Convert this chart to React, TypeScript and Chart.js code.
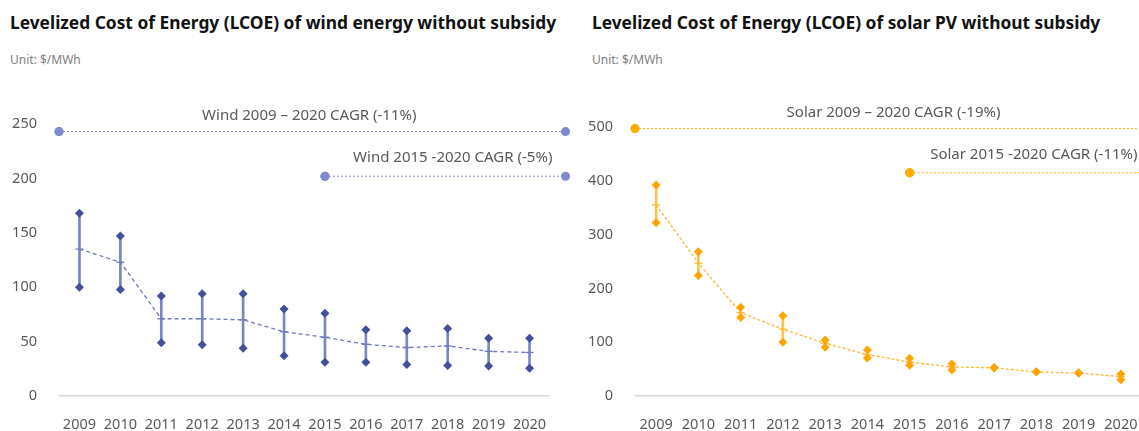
import React, { useEffect, useRef } from "react";
import { Chart, registerables } from "chart.js";
Chart.register(...registerables);

const years = ["2009", "2010", "2011", "2012", "2013", "2014", "2015", "2016", "2017", "2018", "2019", "2020"];

const windHigh = [168, 147, 92, 94, 94, 80, 76, 61, 60, 62, 53, 53];
const windLow = [100, 98, 49, 47, 44, 37, 31, 31, 29, 28, 27.5, 25.5];
const windMid = [135, 123, 71, 71, 70, 59, 54, 47.5, 44.5, 46, 41, 40];
const windCagrFull = 243;
const windCagrRecent = 202;
const windCagrLabels = ["Wind 2009 \u2013 2020 CAGR (-11%)", "Wind 2015 -2020 CAGR (-5%)"];
const windYTicks = [0, 50, 100, 150, 200, 250];

const solarHigh = [392, 268, 165, 149, 104, 85.5, 70, 59.5, 53, 45, 43, 41];
const solarLow = [322, 224, 146, 100, 90.5, 70.5, 57, 48.5, 52, 44.5, 42.5, 30];
const solarMid = [355, 247, 155, 124, 98, 77, 63, 54, 52.5, 44.7, 42.7, 36];
const solarCagrFull = 497;
const solarCagrRecent = 415;
const solarCagrLabels = ["Solar 2009 \u2013 2020 CAGR (-19%)", "Solar 2015 -2020 CAGR (-11%)"];
const solarYTicks = [0, 100, 200, 300, 400, 500];

// span of the CAGR reference lines, in year-index units
const fullSpan = [-0.5, 11.88];
const recentSpan = [6, 11.88];

const FONT = "'Noto Sans', 'Open Sans', sans-serif";

type P = {
  high: number[];
  low: number[];
  mid: number[];
  cagrFull: number;
  cagrRecent: number;
  labels: string[];
  yTicks: number[];
  marker: string;
  bar: string;
  midColor: string;
  midDash: number[];
  ann: string;
  yWidth: number;
  padTop: number;
  padRight: number;
  labelDx: number[];
};

function buildConfig(p: P): any {
  const idx = years.map((_, i) => i);
  const labelPlugin = {
    id: "cagrLabels",
    afterDatasetsDraw(chart: any) {
      const { ctx } = chart;
      const xs = chart.scales.x;
      const ys = chart.scales.y;
      ctx.save();
      // end dots of the CAGR lines may sit outside the plot area: draw them unclipped
      [4, 5].forEach((di) => {
        chart.getDatasetMeta(di).data.forEach((el: any) => el.draw(ctx));
      });
      ctx.fillStyle = "#595959";
      ctx.font = `15px ${FONT}`;
      ctx.textAlign = "center";
      ctx.textBaseline = "middle";
      const x1 = (xs.getPixelForValue(fullSpan[0]) + xs.getPixelForValue(fullSpan[1])) / 2 + p.labelDx[0];
      ctx.fillText(p.labels[0], x1, ys.getPixelForValue(p.cagrFull) - 16);
      const x2 = (xs.getPixelForValue(recentSpan[0]) + xs.getPixelForValue(recentSpan[1])) / 2 + p.labelDx[1];
      ctx.fillText(p.labels[1], x2, ys.getPixelForValue(p.cagrRecent) - 18);
      ctx.restore();
    },
  };
  return {
    type: "line",
    data: {
      datasets: [
        {
          type: "bar",
          data: idx.map((i) => ({ x: i, y: [p.low[i], p.high[i]] })),
          backgroundColor: p.bar,
          borderWidth: 0,
          barThickness: 2,
          order: 10,
        },
        {
          data: idx.map((i) => ({ x: i, y: p.mid[i] })),
          borderColor: p.midColor,
          borderDash: p.midDash,
          borderWidth: 1.3,
          pointStyle: "line",
          pointRadius: 4,
          pointBorderColor: p.midColor,
          pointBorderWidth: 1.3,
          fill: false,
          order: 5,
        },
        {
          data: idx.map((i) => ({ x: i, y: p.high[i] })),
          showLine: false,
          pointStyle: "rectRot",
          pointRadius: 4.5,
          pointBackgroundColor: p.marker,
          pointBorderColor: p.marker,
          pointBorderWidth: 0,
          order: 1,
        },
        {
          data: idx.map((i) => ({ x: i, y: p.low[i] })),
          showLine: false,
          pointStyle: "rectRot",
          pointRadius: 4.5,
          pointBackgroundColor: p.marker,
          pointBorderColor: p.marker,
          pointBorderWidth: 0,
          order: 1,
        },
        {
          data: fullSpan.map((x) => ({ x, y: p.cagrFull })),
          borderColor: p.ann,
          borderDash: [2, 2],
          borderWidth: 1,
          pointRadius: 4.5,
          pointBackgroundColor: p.ann,
          pointBorderColor: p.ann,
          pointBorderWidth: 0,
          clip: false,
          order: 2,
        },
        {
          data: recentSpan.map((x) => ({ x, y: p.cagrRecent })),
          borderColor: p.ann,
          borderDash: [2, 2],
          borderWidth: 1,
          pointRadius: 4.5,
          pointBackgroundColor: p.ann,
          pointBorderColor: p.ann,
          pointBorderWidth: 0,
          clip: false,
          order: 2,
        },
      ],
    },
    options: {
      animation: false,
      responsive: false,
      devicePixelRatio: 1,
      layout: { padding: { top: p.padTop, right: p.padRight, left: 0, bottom: 0 } },
      plugins: { legend: { display: false }, tooltip: { enabled: false }, title: { display: false } },
      scales: {
        x: {
          type: "linear",
          bounds: "data",
          offset: false,
          min: -0.5,
          max: 11.5,
          grid: { display: false, offset: false },
          border: { display: false },
          afterBuildTicks: (s: any) => {
            s.ticks = idx.map((i) => ({ value: i }));
            s.min = -0.5;
            s.max = 11.5;
          },
          afterFit: (s: any) => {
            s.height = 35;
          },
          ticks: {
            autoSkip: false,
            maxRotation: 0,
            padding: 12,
            color: "#595959",
            font: { family: FONT, size: 14.5 },
            callback: (v: number) => (Number.isInteger(v) ? years[v] : ""),
          },
        },
        y: {
          min: p.yTicks[0],
          max: p.yTicks[p.yTicks.length - 1],
          afterBuildTicks: (s: any) => {
            s.ticks = p.yTicks.map((v) => ({ value: v }));
          },
          afterFit: (s: any) => {
            s.width = p.yWidth;
          },
          grid: {
            drawTicks: false,
            color: (c: any) => (c.tick && c.tick.value === 0 ? "#d9d9d9" : "rgba(0,0,0,0)"),
            lineWidth: 1.5,
          },
          border: { display: false },
          ticks: {
            padding: 22,
            color: "#595959",
            font: { family: FONT, size: 14.5 },
          },
        },
      },
    },
    plugins: [labelPlugin],
  };
}

function ChartCanvas({ params, left, width }: { params: P; left: number; width: number }) {
  const ref = useRef<HTMLCanvasElement | null>(null);
  useEffect(() => {
    if (!ref.current) return;
    const chart = new Chart(ref.current, buildConfig(params));
    return () => chart.destroy();
  }, []);
  return (
    <canvas
      ref={ref}
      width={width}
      height={341}
      style={{ position: "absolute", left, top: 90, width, height: 341 }}
    />
  );
}

const titleStyle: React.CSSProperties = {
  position: "absolute",
  top: 11,
  fontFamily: FONT,
  fontWeight: 700,
  fontSize: 17.35,
  lineHeight: "22px",
  color: "#111",
  whiteSpace: "nowrap",
};
const unitStyle: React.CSSProperties = {
  position: "absolute",
  top: 52,
  fontFamily: FONT,
  fontSize: 12,
  lineHeight: "16px",
  color: "#7f7f7f",
  whiteSpace: "nowrap",
};

export default function App() {
  const wind: P = {
    high: windHigh,
    low: windLow,
    mid: windMid,
    cagrFull: windCagrFull,
    cagrRecent: windCagrRecent,
    labels: windCagrLabels,
    yTicks: windYTicks,
    marker: "#42509d",
    bar: "#7a85c4",
    midColor: "#6d79bd",
    midDash: [4, 3],
    ann: "#7f8ad0",
    yWidth: 59,
    padTop: 34,
    padRight: 30,
    labelDx: [-3, 7.5],
  };
  const solar: P = {
    high: solarHigh,
    low: solarLow,
    mid: solarMid,
    cagrFull: solarCagrFull,
    cagrRecent: solarCagrRecent,
    labels: solarCagrLabels,
    yTicks: solarYTicks,
    marker: "#ffa500",
    bar: "#ffc24a",
    midColor: "#ffb830",
    midDash: [3, 2],
    ann: "#ffac00",
    yWidth: 50,
    padTop: 37,
    padRight: 23,
    labelDx: [-3, 0],
  };
  return (
    <div
      style={{
        position: "absolute",
        left: 0,
        top: 0,
        width: 1139,
        height: 431,
        overflow: "hidden",
        background: "#fff",
      }}
    >
      <div style={{ ...titleStyle, left: 10 }}>Levelized Cost of Energy (LCOE) of wind energy without subsidy</div>
      <div style={{ ...unitStyle, left: 10 }}>Unit: $/MWh</div>
      <div style={{ ...titleStyle, left: 592 }}>Levelized Cost of Energy (LCOE) of solar PV without subsidy</div>
      <div style={{ ...unitStyle, left: 592 }}>Unit: $/MWh</div>
      <ChartCanvas params={wind} left={0} width={580} />
      <ChartCanvas params={solar} left={585} width={580} />
    </div>
  );
}
